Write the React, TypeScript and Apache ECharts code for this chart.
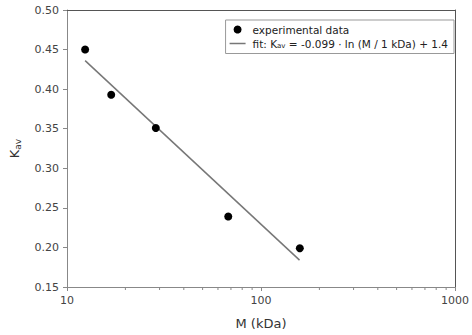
import React, { useEffect, useRef } from "react";
import * as echarts from "echarts";

const massKDa = [12.4, 16.9, 28.7, 67.8, 158.5];
const kavValues = [0.45, 0.393, 0.351, 0.239, 0.199];
const fitMass = [12.4, 158];
const fitKav = [0.436, 0.184];
const xMinorTicks = [20, 30, 40, 50, 60, 70, 80, 90, 200, 300, 400, 500, 600, 700, 800, 900];
const yMin = 0.15;
const seriesNames = ["experimental data", "fit"];

export default function App() {
  const ref = useRef<HTMLDivElement>(null);
  useEffect(() => {
    const chart = echarts.init(ref.current!, null, { renderer: "svg" });
    const font = "DejaVu Sans";
    const axisColor = "#888";
    const labelColor = "#444";
    chart.setOption({
      animation: false,
      textStyle: { fontFamily: font },
      grid: { left: 65, right: 10, top: 10, bottom: 47 },
      legend: {
        orient: "vertical",
        right: 18,
        top: 20,
        backgroundColor: "#fff",
        borderColor: "#999",
        borderWidth: 1,
        borderRadius: 0,
        padding: [4, 6, 4, 4],
        itemGap: 3,
        itemWidth: 16,
        itemHeight: 8,
        data: [
          { name: seriesNames[0], icon: "circle" },
          { name: seriesNames[1], icon: "path://M0,0 L16,0 L16,1.5 L0,1.5 Z" },
        ],
        formatter: (name: string) =>
          name === "fit" ? "fit: K{sub|av} = -0.099 · ln (M / 1 kDa) + 1.4" : name,
        textStyle: {
          fontFamily: font,
          fontSize: 10.5,
          color: "#222",
          padding: [0, 0, 0, 2],
          rich: { sub: { fontSize: 7, verticalAlign: "bottom", padding: [5, 0, 0, 0], fontFamily: font, color: "#222" } },
        },
      },
      xAxis: [
        {
          type: "log",
          logBase: 10,
          min: 10,
          max: 1000,
          name: "M (kDa)",
          nameLocation: "middle",
          nameGap: 30,
          nameTextStyle: { fontSize: 13, color: "#333", fontFamily: font },
          axisLine: { show: true, lineStyle: { color: axisColor } },
          axisTick: { show: true, length: 4, lineStyle: { color: axisColor } },
          axisLabel: { color: labelColor, fontSize: 11, fontFamily: font, margin: 8, formatter: (v: number) => String(Math.round(v)) },
          splitLine: { show: false },
        },
        {
          type: "log",
          logBase: 10,
          min: 10,
          max: 1000,
          position: "top",
          axisLine: { show: true, lineStyle: { color: "#555" } },
          axisTick: { show: false },
          axisLabel: { show: false },
          splitLine: { show: false },
        },
      ],
      yAxis: [
        {
          type: "value",
          min: 0.15,
          max: 0.5,
          interval: 0.05,
          name: "K{sub|av}",
          nameLocation: "middle",
          nameGap: 45,
          nameRotate: 90,
          nameTextStyle: {
            fontSize: 13,
            color: "#333",
            fontFamily: font,
            rich: { sub: { fontSize: 9, fontFamily: font, color: "#333", padding: [6, 0, 0, 0] } },
          },
          axisLine: { show: true, lineStyle: { color: axisColor } },
          axisTick: { show: true, length: 4, lineStyle: { color: axisColor } },
          axisLabel: {
            color: labelColor,
            fontSize: 11,
            fontFamily: font,
            margin: 8,
            formatter: (v: number) => v.toFixed(2),
          },
          splitLine: { show: false },
        },
        {
          type: "value",
          min: 0.15,
          max: 0.5,
          interval: 0.05,
          position: "right",
          axisLine: { show: true, lineStyle: { color: "#555" } },
          axisTick: { show: false },
          axisLabel: { show: false },
          splitLine: { show: false },
        },
      ],
      series: [
        {
          name: seriesNames[0],
          type: "scatter",
          symbol: "circle",
          symbolSize: 8,
          itemStyle: { color: "#000", opacity: 1 },
          data: massKDa.map((m, i) => [m, kavValues[i]]),
          z: 3,
        },
        {
          name: seriesNames[1],
          type: "line",
          symbol: "none",
          lineStyle: { color: "#777", width: 1.5 },
          itemStyle: { color: "#777" },
          data: fitMass.map((m, i) => [m, fitKav[i]]),
          z: 2,
        },
        {
          name: "minorTicks",
          type: "custom",
          silent: true,
          clip: false,
          data: xMinorTicks.map((v) => [v, yMin]),
          renderItem: (_params: any, api: any) => {
            const p = api.coord([api.value(0), api.value(1)]);
            return {
              type: "line",
              shape: { x1: p[0], y1: p[1], x2: p[0], y2: p[1] + 3 },
              style: { stroke: axisColor, lineWidth: 1 },
            };
          },
          z: 1,
        },
      ],
    });
    return () => chart.dispose();
  }, []);
  return <div ref={ref} style={{ width: 472, height: 335, position: "absolute", left: 0, top: 0 }} />;
}
